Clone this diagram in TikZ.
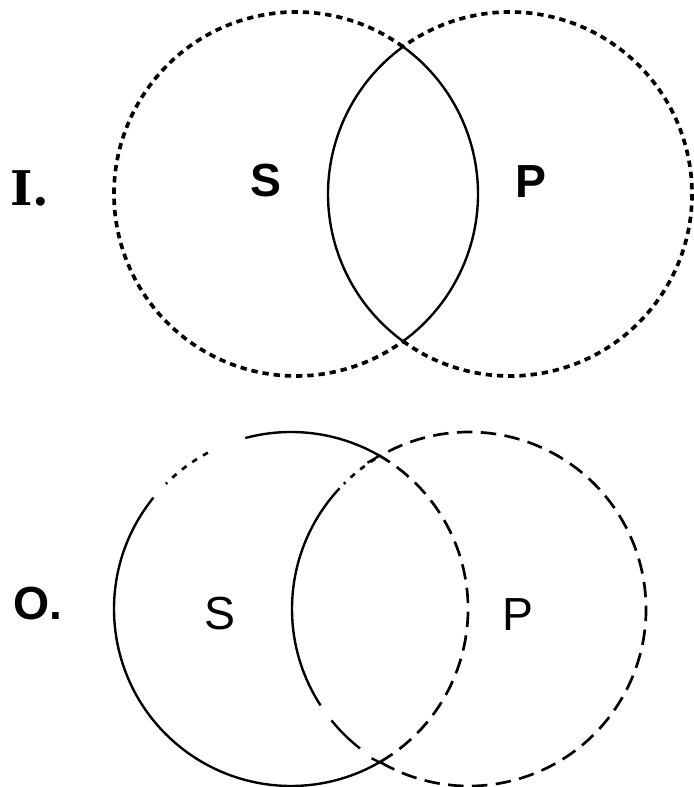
\documentclass[tikz,border=0pt]{standalone}
\usepackage{fontspec}
\newfontfamily\termfont{Liberation Sans}
\newfontfamily\markfont{DejaVu Serif}
\usepackage{tikz}

\begin{document}
\begin{tikzpicture}[x=0.025cm,y=0.025cm,
	term_node/.style={inner sep=0pt,font=\termfont\fontsize{33}{33}\selectfont},
	dot_line/.style={line width=2.6pt,dash pattern=on 4.5pt off 3.5pt},
	dash_line/.style={line width=1.9pt,dash pattern=on 11pt off 6pt},
	gap_line/.style={line width=1.9pt,dash pattern=on 4pt off 5pt},
	full_line/.style={line width=1.7pt}]

		\useasboundingbox (0,0) rectangle (694,787);

		% I. (some S is P)
		\coordinate (S1) at (296,593);
		\coordinate (P1) at (510,593);
		\node[term_node,font=\markfont\bfseries\fontsize{34}{34}\selectfont] (I) at (30,599) {I.};
		\node[term_node,font=\termfont\bfseries\fontsize{33}{33}\selectfont] (s1) at (266,606) {S};
		\node[term_node,font=\termfont\bfseries\fontsize{33}{33}\selectfont] (p1) at (531,605) {P};

		\draw[dot_line] ([shift={(54:182)}]S1) arc[start angle=54,end angle=306,radius=182];
		\draw[dot_line] ([shift={(-126:182)}]P1) arc[start angle=-126,end angle=126,radius=182];
		\draw[full_line] ([shift={(-54:182)}]S1) arc[start angle=-54,end angle=54,radius=182];
		\draw[full_line] ([shift={(126:182)}]P1) arc[start angle=126,end angle=234,radius=182];

		% O. (some S is not P)
		\coordinate (S2) at (291,178);
		\coordinate (P2) at (469,178);
		\node[term_node,font=\termfont\bfseries\fontsize{33}{33}\selectfont] (O) at (38,183) {O.};
		\node[term_node] (s2) at (220,173) {S};
		\node[term_node] (p2) at (518,172) {P};

		\draw[dash_line] ([shift={(-60:177)}]S2) arc[start angle=-60,end angle=60,radius=177];
		\draw[full_line] ([shift={(105:177)}]S2) arc[start angle=105,end angle=60,radius=177] -- ++(-12,-7);
		\draw[gap_line] ([shift={(118:177)}]S2) arc[start angle=118,end angle=135,radius=177];
		\draw[full_line] ([shift={(141:177)}]S2) arc[start angle=141,end angle=300,radius=177] -- ++(-8,4);
		\draw[dash_line] ([shift={(-120:177)}]P2) arc[start angle=-120,end angle=120,radius=177];
		\draw[gap_line] ([shift={(122:177)}]P2) arc[start angle=122,end angle=135,radius=177];
		\draw[full_line] ([shift={(137:177)}]P2) arc[start angle=137,end angle=213,radius=177];
		\draw[full_line] ([shift={(219:177)}]P2) arc[start angle=219,end angle=232,radius=177];
		\end{tikzpicture}
\end{document}
